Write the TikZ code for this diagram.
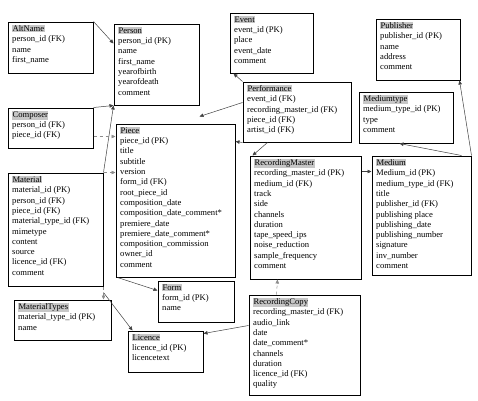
\documentclass[tikz,border=0pt]{standalone}
\usepackage{fontspec}
\setmainfont{Liberation Serif}
\usetikzlibrary{arrows.meta}
\newcommand{\hdr}[1]{{\setlength{\fboxsep}{0.4pt}\colorbox{black!22}{#1}}}
\newcommand{\ent}[7]{%
 \node[box,minimum width=#4pt,minimum height=#5pt] (#1) at (#2+#4/2,#3+#5/2) {};
 \node[txt] (#1t) at (#2+4,#3+3) {\hdr{#6}\\#7};}
\begin{document}
\begin{tikzpicture}[x=1pt,y=-1pt,
 box/.style={draw,line width=1pt,rectangle,inner sep=0},
 txt/.style={anchor=north west,inner sep=0,align=left,font=\fontsize{8.6}{10.3}\selectfont},
 fk/.style={-{Triangle[length=4pt,width=3.5pt]},line width=0.5pt,draw=black!75},
 dfk/.style={fk,dashed,draw=black!45}]
\useasboundingbox (0,0) rectangle (478,400);
\fill[white] (0,0) rectangle (478,400);
\ent{alt}{8}{22}{85}{51}{AltName}{person\_id (FK)\\name\\first\_name}
\ent{person}{114}{24}{85}{81}{Person}{person\_id (PK)\\name\\first\_name\\yearofbirth\\yearofdeath\\comment}
\ent{comp}{8}{108}{85}{40}{Composer}{person\_id (FK)\\piece\_id (FK)}
\ent{piece}{116}{124}{119}{153}{Piece}{piece\_id (PK)\\title\\subtitle\\version\\form\_id (FK)\\root\_piece\_id\\composition\_date\\composition\_date\_comment*\\premiere\_date\\premiere\_date\_comment*\\composition\_commission\\owner\_id\\comment}
\ent{mat}{8}{173}{95}{113}{Material}{material\_id (PK)\\person\_id (FK)\\piece\_id (FK)\\material\_type\_id (FK)\\mimetype\\content\\source\\licence\_id (FK)\\comment}
\ent{mtypes}{14}{300}{97}{40}{MaterialTypes}{material\_type\_id (PK)\\name}
\ent{lic}{128}{331}{75}{41}{Licence}{licence\_id (PK)\\licencetext}
\ent{form}{158}{281}{76}{41}{Form}{form\_id (PK)\\name}
\ent{event}{230}{13}{83}{60}{Event}{event\_id (PK)\\place\\event\_date\\comment}
\ent{perf}{243}{82}{108}{60}{Performance}{event\_id (FK)\\recording\_master\_id (FK)\\piece\_id (FK)\\artist\_id (FK)}
\ent{pub}{376}{19}{84}{61}{Publisher}{publisher\_id (PK)\\name\\address\\comment}
\ent{mtype}{359}{92}{94}{51}{Mediumtype}{medium\_type\_id (PK)\\type\\comment}
\ent{rm}{250}{156}{111}{123}{RecordingMaster}{recording\_master\_id (PK)\\medium\_id (FK)\\track\\side\\channels\\duration\\tape\_speed\_ips\\noise\_reduction\\sample\_frequency\\comment}
\ent{med}{372}{156}{99}{119}{Medium}{Medium\_id (PK)\\medium\_type\_id (FK)\\title\\publisher\_id (FK)\\publishing place\\publishing\_date\\publishing\_number\\signature\\inv\_number\\comment}
\ent{rc}{249}{295}{111}{100}{RecordingCopy}{recording\_master\_id (FK)\\audio\_link\\date\\date\_comment*\\channels\\duration\\licence\_id (FK)\\quality}
% connectors
\draw[fk] (alt.north east) -- ([yshift=-20pt]person.north west);
\draw[fk] (comp.north east) -- (person.south west);
\draw[fk] (mat.north east) -- (person.south west);
\draw[dfk] ([yshift=-29pt]comp.north east) -- ([yshift=-13pt]piece.north west);
\draw[dfk] (mat.north east) -- ([yshift=-49pt]piece.north west);
\draw[fk] ([yshift=-21pt]perf.north west) -- ([yshift=-11pt]person.south east);
\draw[fk] (perf.north west) -- ([xshift=4pt]event.south west);
\draw[fk] (perf.south west) -- ([yshift=-18pt]piece.north east);
\draw[fk] ([xshift=25pt]perf.south west) -- ([xshift=3pt]rm.north west);
\draw[fk] ([yshift=-16pt]rm.north east) -- ([yshift=-16pt]med.north west);
\draw[fk] ([xshift=-10pt]med.north east) -- ([xshift=41pt]mtype.south west);
\draw[fk] (med.north east) -- ([xshift=-1pt]pub.south east);
\draw[dfk] ([xshift=28pt]rc.north west) -- ([xshift=28pt]rm.south west);
\draw[fk] ([yshift=-31pt]rc.north west) -- ([yshift=-3pt]lic.north east);
\draw[fk] ([yshift=-6pt]mat.south east) -- ([xshift=5pt]lic.north west);
\draw[dfk] (mat.south east) -- ([xshift=-8pt]mtypes.north east);
\draw[fk] ([xshift=2pt]piece.south west) -- ([yshift=-10pt]form.north west);
\end{tikzpicture}
\end{document}
